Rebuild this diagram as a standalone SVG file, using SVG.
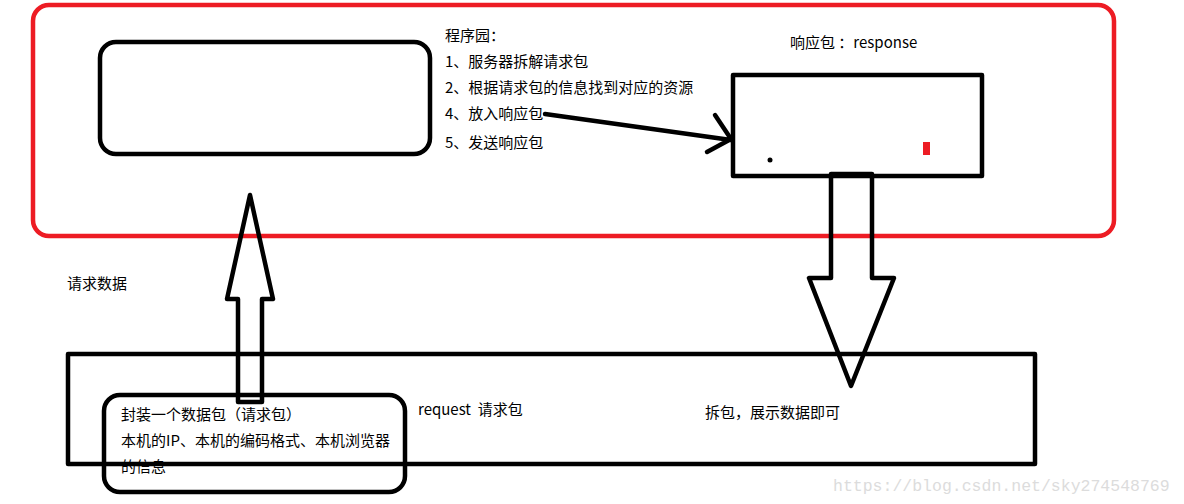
<svg xmlns="http://www.w3.org/2000/svg" width="1184" height="504" viewBox="0 0 1184 504">
<style>
.k{fill:none;stroke:#000;stroke-width:4.5;stroke-linejoin:round;stroke-linecap:round}
.t{font-family:"Noto Sans CJK SC","Liberation Sans",sans-serif;font-size:15px;fill:#000;white-space:pre}
.w{font-family:"Liberation Mono",monospace;font-size:16.5px;fill:#dcdcdc}
</style>
<rect width="1184" height="504" fill="#fff"/>
<g id="server">
<rect x="33" y="5" width="1081" height="231" rx="16" fill="none" stroke="#ed1c24" stroke-width="4.5"/>
<text class="t" x="445" y="41">程序园：</text>
<text class="t" x="445" y="67">1、服务器拆解请求包</text>
<text class="t" x="445" y="93">2、根据请求包的信息找到对应的资源</text>
<text class="t" x="445" y="119">4、放入响应包</text>
<text class="t" x="445" y="148">5、发送响应包</text>
</g>
<g id="resource">
<rect x="100" y="42" width="330" height="112" rx="16" class="k"/>
</g>
<g id="response">
<text class="t" x="790" y="48">响应包 ：response</text>
<rect x="733" y="75" width="249" height="101" class="k" stroke-linejoin="miter"/>
<circle cx="770" cy="160" r="2.5" fill="#000"/>
<rect x="923" y="142" width="7" height="13" fill="#ed1c24"/>
</g>
<g id="request">
<rect x="68" y="354" width="967" height="110" class="k" stroke-linejoin="miter"/>
<text class="t" x="418" y="415">request  请求包</text>
<text class="t" x="705" y="418">拆包，展示数据即可</text>
</g>
<g id="client">
<rect x="104" y="395" width="301" height="97" rx="16" class="k"/>
<text class="t" x="121" y="420">封装一个数据包（请求包）</text>
<text class="t" x="121" y="446">本机的IP、本机的编码格式、本机浏览器</text>
<text class="t" x="121" y="472">的信息</text>
</g>
<g id="label">
<text class="t" x="67" y="289">请求数据</text>
</g>
<g id="connectors">
<path class="k" d="M545,114 L731,140 M715,115 L731,139 L707,152"/>
<path class="k" d="M831,278 L831,174 L872,174 L872,278 L894,278 L851,386 L809,278 Z"/>
<path class="k" d="M238,402 L238,299 L227,299 L250,195 L273,299 L262,299 L262,402 Z"/>
</g>
<text class="w" x="833" y="491">https://blog.csdn.net/sky274548769</text>
</svg>
